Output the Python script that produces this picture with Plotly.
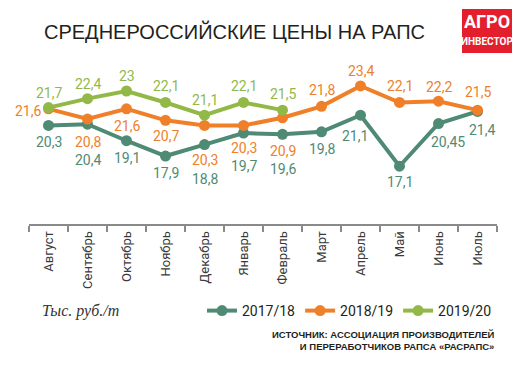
import plotly.graph_objects as go

months = ["Август", "Сентябрь", "Октябрь", "Ноябрь", "Декабрь", "Январь",
          "Февраль", "Март", "Апрель", "Май", "Июнь", "Июль"]
s1718 = [20.3, 20.4, 19.1, 17.9, 18.8, 19.7, 19.6, 19.8, 21.1, 17.1, 20.45, 21.4]
s1819 = [21.6, 20.8, 21.6, 20.7, 20.3, 20.3, 20.9, 21.8, 23.4, 22.1, 22.2, 21.5]
s1920 = [21.7, 22.4, 23.0, 22.1, 21.1, 22.1, 21.5]
names = ["2017/18", "2018/19", "2019/20"]

# label offsets in pixels (dx, dy; dy positive = downwards)
off1718 = [(0, 17), (0, 36), (0, 17), (0, 17), (0, 34), (0, 33), (0, 35), (0, 17), (-6, 21), (0, 16), (9, 18), (4, 19)]
off1819 = [(-21, 2), (0, 23), (0, 17), (0, 16), (0, 35), (0, 23), (0, 33), (0, -16), (0, -15), (0, -16), (0, -14), (0, -18)]
off1920 = [(0, -15), (0, -15), (0, -15), (0, -16), (0, -15), (0, -16), (0, -16)]

colors = ["#4f8a74", "#f07f2a", "#92b947"]
LBL_FONT = "Roboto, Liberation Sans, Arial, sans-serif"

# page body has an 8px margin: figure is drawn at (8, 8) in the window
O = 8
FW, FH = 532 - 2 * O, 365 - 2 * O
W0, W1, H0, H1 = 29 - O, 497 - O, 72 - O, 224 - O  # plot area in figure pixels
PW, PH = W1 - W0, H1 - H0


def px(x):  # window pixel -> paper x
    return (x - O - W0) / PW


def py(y):  # window pixel -> paper y
    return (H1 - (y - O)) / PH


fig = go.Figure()
series = [s1718, s1819, s1920]
offsets = [off1718, off1819, off1920]
for name, vals, col in zip(names, series, colors):
    fig.add_trace(go.Scatter(
        x=months[:len(vals)], y=vals, name=name, mode="lines+markers",
        line=dict(color=col, width=4),
        marker=dict(color=col, size=11),
    ))

annotations = []
for vals, offs, col in zip(series, offsets, colors):
    for m, v, (dx, dy) in zip(months, vals, offs):
        annotations.append(dict(
            x=m, y=v, xref="x", yref="y", text=f"{v:g}".replace(".", ","),
            showarrow=False, xanchor="center", yanchor="middle",
            xshift=dx, yshift=-dy,
            font=dict(family=LBL_FONT, size=14, color=col),
        ))

# Title
annotations.append(dict(
    x=px(42), y=py(31), xref="paper", yref="paper",
    text="СРЕДНЕРОССИЙСКИЕ ЦЕНЫ НА РАПС", showarrow=False,
    xanchor="left", yanchor="middle",
    font=dict(family="Liberation Sans, Arial, sans-serif", size=20, color="#231f20"),
))
# Units
annotations.append(dict(
    x=px(40), y=py(311), xref="paper", yref="paper",
    text="<i>Тыс. руб./т</i>", showarrow=False, xanchor="left", yanchor="middle",
    font=dict(family="Liberation Serif, DejaVu Serif, serif", size=16, color="#333333"),
))
# Source
annotations.append(dict(
    x=px(497), y=py(340), xref="paper", yref="paper",
    text="<b>ИСТОЧНИК: АССОЦИАЦИЯ ПРОИЗВОДИТЕЛЕЙ</b><br><b>И ПЕРЕРАБОТЧИКОВ РАПСА «РАСРАПС»</b>",
    showarrow=False, xanchor="right", yanchor="middle", align="right",
    font=dict(family="Liberation Sans, Arial, sans-serif", size=9.5, color="#231f20"),
))
# Logo text
annotations.append(dict(
    x=px(487), y=py(21), xref="paper", yref="paper",
    text="<b>АГРО</b>", showarrow=False, xanchor="center", yanchor="middle",
    font=dict(family=LBL_FONT, size=18, color="white"),
))
annotations.append(dict(
    x=px(487), y=py(42), xref="paper", yref="paper",
    text="<b>ИНВЕСТОР</b>", showarrow=False, xanchor="center", yanchor="middle",
    font=dict(family=LBL_FONT, size=10, color="white"),
))

fig.add_shape(type="rect", xref="paper", yref="paper",
              x0=px(462), x1=px(512), y0=py(53), y1=py(9),
              fillcolor="#e31e2d", line=dict(width=0), layer="below")

fig.update_layout(
    width=FW, height=FH,
    margin=dict(l=W0, r=FW - W1, t=H0, b=FH - H1, autoexpand=False),
    paper_bgcolor="white", plot_bgcolor="white",
    showlegend=True,
    legend=dict(orientation="h", xref="paper", yref="paper",
                x=px(497), y=py(311), xanchor="right", yanchor="middle",
                font=dict(family=LBL_FONT, size=14, color="#231f20"),
                itemwidth=30, tracegroupgap=0, bgcolor="rgba(0,0,0,0)"),
    annotations=annotations,
    xaxis=dict(type="category", categoryorder="array", categoryarray=months,
               range=[-0.5, 11.5], showgrid=False, zeroline=False, automargin=False,
               showline=True, linecolor="#8a8a8a", linewidth=2,
               ticks="outside", tickson="boundaries", ticklen=6, tickwidth=1.5,
               tickcolor="#8a8a8a", tickangle=-90,
               tickfont=dict(family=LBL_FONT, size=13, color="#3a3a3a")),
    yaxis=dict(range=[12.57, 24.49], visible=False, showgrid=False, zeroline=False),
)

fig.write_html("out.html")
